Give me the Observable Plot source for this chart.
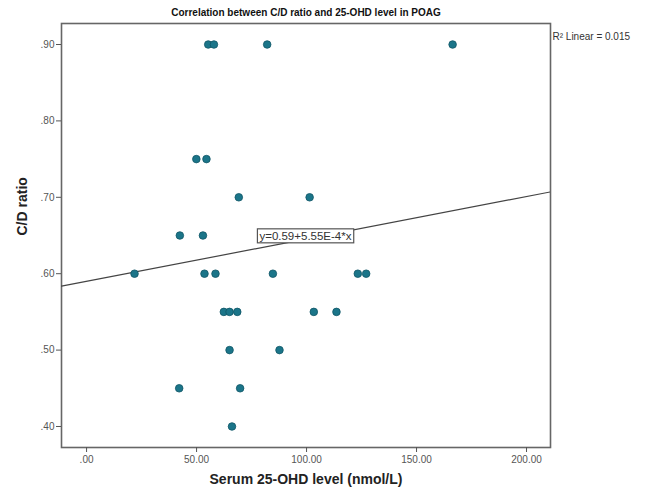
<!DOCTYPE html>
<html>
<head>
<meta charset="utf-8">
<script src="https://cdn.jsdelivr.net/npm/d3@7"></script>
<script src="https://cdn.jsdelivr.net/npm/@observablehq/plot@0.6"></script>
<style>
  html, body { margin: 0; padding: 0; background: #fff; }
  #chart svg { display: block; }
</style>
</head>
<body>
<div id="chart"></div>
<script>
// Data
const serum25OHD = [
  55.3, 57.9, 82.1, 166.4,
  49.9, 54.5,
  69.2, 101.4,
  42.4, 52.9,
  21.8, 53.6, 58.6, 84.7, 123.3, 127.1,
  62.4, 65.0, 68.5, 103.3, 113.6,
  65.0, 87.7,
  42.1, 69.8,
  66.1
];
const cdRatio = [
  0.90, 0.90, 0.90, 0.90,
  0.75, 0.75,
  0.70, 0.70,
  0.65, 0.65,
  0.60, 0.60, 0.60, 0.60, 0.60, 0.60,
  0.55, 0.55, 0.55, 0.55, 0.55,
  0.50, 0.50,
  0.45, 0.45,
  0.40
];
const xTicks = [0, 50, 100, 150, 200];
const yTicks = [0.40, 0.50, 0.60, 0.70, 0.80, 0.90];
const fitIntercept = 0.59;
const fitSlope = 5.55e-4;
const fitLabel = "y=0.59+5.55E-4*x";
const fitLabelAtX = 99.5;
const r2Label = "R² Linear = 0.015";
const titleText = "Correlation between C/D ratio and 25-OHD level in POAG";
const xLabel = "Serum 25-OHD level (nmol/L)";
const yLabel = "C/D ratio";

const xDomain = [-11.4, 210.9];
const yDomain = [0.3725, 0.9275];

const points = serum25OHD.map((x, i) => ({x, y: cdRatio[i]}));
const fitLine = xDomain.map(x => ({x, y: fitIntercept + fitSlope * x}));
const labelPos = [{x: fitLabelAtX, y: fitIntercept + fitSlope * fitLabelAtX, t: fitLabel}];

const fmtX = d => d === 0 ? ".00" : d.toFixed(2);
const fmtY = d => d.toFixed(2).replace(/^0/, "");

const chart = Plot.plot({
  width: 651,
  height: 495,
  marginLeft: 61,
  marginRight: 101,
  marginTop: 23,
  marginBottom: 48,
  style: {fontFamily: "Liberation Sans, Arial, sans-serif", background: "#fff"},
  x: {domain: xDomain, ticks: xTicks, tickFormat: fmtX},
  y: {domain: yDomain, ticks: yTicks, tickFormat: fmtY},
  marks: [
    Plot.frame({stroke: "#666", strokeWidth: 1.6}),
    Plot.axisX({ticks: xTicks, tickFormat: fmtX, tickSize: 5, tickPadding: 3, stroke: "#555", fill: "#555", fontSize: 10, label: null}),
    Plot.axisY({ticks: yTicks, tickFormat: fmtY, tickSize: 5, tickPadding: 2, stroke: "#555", fill: "#555", fontSize: 10, label: null}),
    Plot.line(fitLine, {x: "x", y: "y", stroke: "#444", strokeWidth: 1.2, clip: true}),
    Plot.dot(points, {x: "x", y: "y", r: 3.8, fill: "#1b7589", stroke: "#0f5566", strokeWidth: 0.8}),
    Plot.text(labelPos, {x: "x", y: "y", text: "t", fontSize: 11.5, fill: "#333", textAnchor: "middle", dy: -3}),
    Plot.text([titleText], {frameAnchor: "top", dy: -15, fontSize: 10, fontWeight: "bold", fill: "#111"}),
    Plot.text([r2Label], {frameAnchor: "top-right", dx: 2, dy: 9, textAnchor: "start", fontSize: 10, fill: "#333"}),
    Plot.text([xLabel], {frameAnchor: "bottom", dy: 36, fontSize: 14, fontWeight: "bold", fill: "#222"}),
    Plot.text([yLabel], {frameAnchor: "left", dx: -39, rotate: -90, fontSize: 14, fontWeight: "bold", fill: "#222"})
  ]
});

document.getElementById("chart").appendChild(chart);
// white box behind the equation label
d3.select(chart).selectAll("text").each(function() {
  if (d3.select(this).text() === fitLabel) {
    const bb = this.getBBox();
    const tr = this.getAttribute("transform");
    const rect = d3.select(this.parentNode).insert("rect", () => this)
      .attr("x", bb.x - 2).attr("y", bb.y - 1)
      .attr("width", bb.width + 4).attr("height", bb.height + 2)
      .attr("fill", "#fff").attr("stroke", "#555").attr("stroke-width", 1.2);
    if (tr) rect.attr("transform", tr);
  }
});
</script>
</body>
</html>
